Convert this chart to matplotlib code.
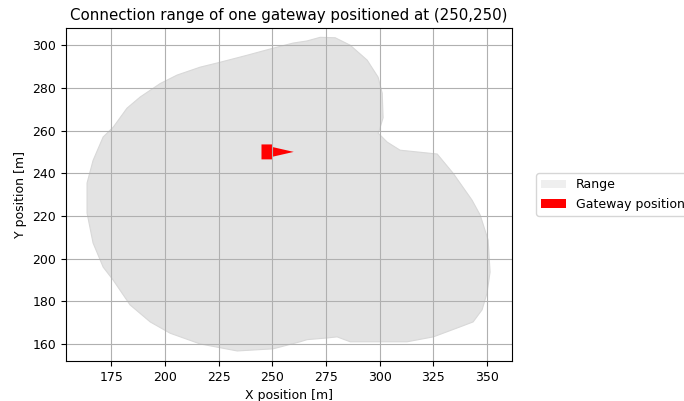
import numpy as np
from matplotlib import pyplot as plt
from matplotlib.patches import Patch

# outline of the reachable area, clockwise from the top
range_x = [272.3, 279.3, 286.3, 294.2, 299.3, 301.2, 301.6, 299.8, 299.3, 303.5,
           309.5, 326.8, 334.2, 343.0, 346.8, 350.5, 351.4, 350.0, 347.7, 343.5,
           337.5, 325.0, 312.8, 306.3, 300.2, 286.3, 280.2, 275.6, 266.2, 263.0,
           250.4, 233.7, 216.4, 202.5, 193.2, 183.8, 175.9, 171.3, 166.6, 163.8,
           163.8, 166.6, 171.3, 176.0, 182.4, 188.5, 197.8, 205.7, 216.4, 225.7,
           238.3, 250.4, 259.7, 266.2]
range_y = [303.7, 303.5, 300.0, 293.0, 285.0, 277.5, 266.0, 260.0, 258.8, 254.6,
           250.8, 249.0, 240.0, 227.4, 220.4, 208.7, 193.7, 183.9, 176.0, 170.3,
           168.0, 163.3, 161.0, 161.0, 161.0, 161.0, 163.3, 162.8, 162.0, 161.0,
           157.7, 156.7, 160.0, 165.0, 170.3, 178.3, 190.0, 196.0, 207.3, 221.3,
           235.4, 246.0, 257.0, 261.6, 270.5, 275.7, 282.0, 286.0, 289.7, 292.0,
           295.3, 298.6, 301.0, 302.0]

gateway = (250, 250)

plt.rcParams['font.size'] = 9

fig = plt.figure(figsize=(6.84, 4.01), dpi=100)
ax = fig.add_axes([0.0965, 0.0998, 0.652, 0.830])

ax.fill(range_x, range_y, facecolor='#e3e3e3', edgecolor='#d8d8d8', lw=0.8)
ax.arrow(gateway[0] - 5, gateway[1], 15, 0, width=7, head_width=4.6,
         head_length=10, length_includes_head=True, color='red', lw=0)

ax.set_xlim(154, 361.6)
ax.set_ylim(152, 308)
ax.grid(True)

plt.title("Connection range of one gateway positioned at (250,250)", fontsize=10.8)
plt.xlabel("X position [m]")
plt.ylabel("Y position [m]")

handles = [Patch(facecolor='#efefef', label='Range'),
           Patch(facecolor='red', label='Gateway position')]
ax.legend(handles=handles, loc='center left', bbox_to_anchor=(1.04, 0.5))

fig.savefig('out.png', dpi=100)
